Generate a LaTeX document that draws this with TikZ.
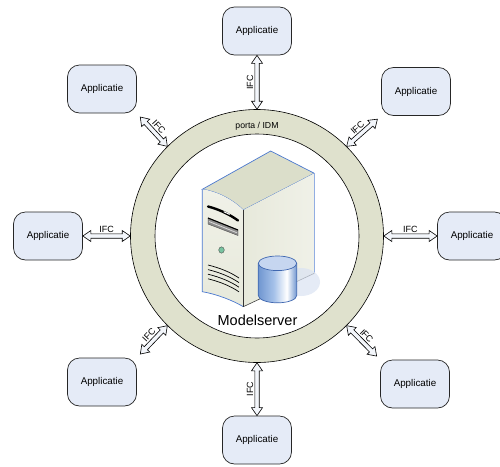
\documentclass[tikz,border=0pt]{standalone}
\usepackage{fontspec}
\setmainfont{Liberation Sans}
\usetikzlibrary{calc}

\definecolor{ringfill}{RGB}{223,225,205}
\definecolor{appfill}{RGB}{229,235,247}
\definecolor{ifcfill}{RGB}{243,246,251}
\definecolor{srvblue}{RGB}{74,120,207}
\definecolor{srvfront}{RGB}{240,241,232}
\definecolor{srvside}{RGB}{231,233,219}
\definecolor{srvtop}{RGB}{219,222,202}
\definecolor{ledgreen}{RGB}{120,195,160}
\definecolor{dbline}{RGB}{63,103,176}
\definecolor{dbdark}{RGB}{112,150,208}
\definecolor{dbmid}{RGB}{165,193,233}
\definecolor{dbtop}{RGB}{198,214,240}
\definecolor{dbshadow}{RGB}{218,227,243}

\pgfdeclarehorizontalshading{dbbody}{100bp}{color(0bp)=(dbdark); color(25bp)=(dbdark);
  color(45bp)=(dbmid); color(62bp)=(white); color(75bp)=(dbdark); color(100bp)=(dbdark)}

% block arrow with two heads between two points, plus its label
\newcommand{\ifcarrow}[2]{%
  \draw[ifc] (#1)
    -- ($(#1)!8pt!(#2)!5.5pt!90:(#2)$)
    -- ($(#1)!8pt!(#2)!2.2pt!90:(#2)$)
    -- ($(#2)!8pt!(#1)!2.2pt!-90:(#1)$)
    -- ($(#2)!8pt!(#1)!5.5pt!-90:(#1)$)
    -- (#2)
    -- ($(#2)!8pt!(#1)!5.5pt!90:(#1)$)
    -- ($(#2)!8pt!(#1)!2.2pt!90:(#1)$)
    -- ($(#1)!8pt!(#2)!2.2pt!-90:(#2)$)
    -- ($(#1)!8pt!(#2)!5.5pt!-90:(#2)$)
    -- cycle;
  \path (#1) -- (#2) node[midway, sloped, above=2.5pt, inner sep=1pt, font=\fontsize{9}{10}\selectfont] {IFC};
}

\begin{document}
\begin{tikzpicture}[x=1pt, y=-1pt,
  app/.style={draw=black!85, fill=appfill, rounded corners=12pt, line width=0.7pt,
    minimum width=69pt, minimum height=48pt, font=\fontsize{9.8}{11}\selectfont},
  ifc/.style={draw=black, fill=ifcfill, line width=0.6pt, line join=miter}]
\useasboundingbox (0,0) rectangle (500,466);

\node[circle, draw, fill=ringfill, line width=0.6pt, minimum size=253pt, inner sep=0pt] (ring) at (257,236) {};
\filldraw[fill=white, line width=0.6pt] (ring.center) circle (102);
\node[font=\fontsize{8.7}{10}\selectfont] (portal) at (257,126) {porta / IDM};

\node[app] (1) at (257,31) {Applicatie};
\node[app] (2) at (416,91.5) {Applicatie};
\node[app] (3) at (472,236) {Applicatie};
\node[app] (4) at (415,384) {Applicatie};
\node[app] (5) at (257,440) {Applicatie};
\node[app] (6) at (102,382) {Applicatie};
\node[app] (7) at (48,236) {Applicatie};
\node[app] (8) at (102,89) {Applicatie};

\coordinate (e2) at ($(2.south west)!5pt!(ring.45)$);
\coordinate (e4) at ($(4.north west)!5pt!(ring.-45)$);
\coordinate (e6) at ($(6.north east)!5pt!(ring.225)$);
\coordinate (e8) at ($(8.south east)!5pt!(ring.135)$);

\ifcarrow{ring.90}{1.south}
\ifcarrow{ring.45}{e2}
\ifcarrow{ring.0}{3.west}
\ifcarrow{ring.-45}{e4}
\ifcarrow{5.north}{ring.270}
\ifcarrow{ring.225}{e6}
\ifcarrow{7.east}{ring.180}
\ifcarrow{ring.135}{e8}

% server cabinet
\filldraw[fill=srvtop, draw=srvblue, line width=0.7pt] (202.3,189.3) -- (270.7,151) -- (314.3,173.3)
  -- (243.3,210) .. controls (232,199) and (216,191) .. cycle;
\shade[left color=srvside, right color=srvfront] (243.3,210) -- (314.3,173.3) -- (314.3,273.3) -- (243.3,306.7) -- cycle;
\draw[srvblue!60, line width=0.5pt] (314.3,173.3) -- (314.3,273.3);
\draw[black!75, line width=0.6pt] (314.3,273.3) -- (243.3,306.7);
\shade[top color=srvfront, bottom color=srvside] (202.3,189.3) .. controls (216,191) and (232,199) .. (243.3,210)
  -- (243.3,306.7) .. controls (232,300) and (216,294) .. (202.3,291.7) -- cycle;
\draw[srvblue, line width=0.7pt] (202.3,189.3) -- (202.3,291.7) .. controls (216,294) and (232,300) .. (243.3,306.7);
\draw[black!80, line width=0.6pt] (243.3,210) -- (243.3,306.7);

% drive bays, led and vents
\draw[line width=2.4pt, line cap=round] (208,206.5) .. controls (218,209) and (229,214) .. (238,220.5);
\draw[white, line width=1pt, line cap=round] (224,211.8) -- (229.5,214.3);
\filldraw[fill=black!45, draw=black!70, line width=0.4pt] (208,218) -- (238,230) -- (238,235.5) -- (208,224) -- cycle;
\draw[line width=1.1pt] (208,218) -- (238,230);
\draw[white!85!black, line width=0.8pt] (209,221.5) -- (237,232.8);
\filldraw[fill=ledgreen, draw=black!70, line width=0.4pt] (221.5,250) ellipse (2.8 and 3.2);
\draw[line width=0.7pt] (208,265) .. controls (220,268) and (230,272) .. (239,278);
\draw[line width=0.7pt] (208,269.6) .. controls (220,272.6) and (230,276.6) .. (239,282.6);
\draw[line width=0.7pt] (208,274.2) .. controls (220,277.2) and (230,281.2) .. (239,287.2);
\draw[line width=0.7pt] (208,278.8) .. controls (220,281.8) and (230,285.8) .. (239,291.8);

% database
\fill[dbshadow, opacity=0.7] (301,282) ellipse (19 and 14);
\shade[shading=dbbody] (258.3,263.3) -- (258.3,295.5) arc[start angle=180, end angle=0, x radius=19.2, y radius=7.3]
  -- (296.7,263.3) -- cycle;
\draw[dbline, line width=0.7pt] (258.3,263.3) -- (258.3,295.5) arc[start angle=180, end angle=0, x radius=19.2, y radius=7.3]
  -- (296.7,263.3);
\filldraw[fill=dbtop, draw=dbline, line width=0.7pt] (277.5,263.3) ellipse (19.2 and 7.3);

\node[font=\fontsize{14.5}{16}\selectfont] (srv) at (257.5,320.5) {Modelserver};
\end{tikzpicture}
\end{document}
